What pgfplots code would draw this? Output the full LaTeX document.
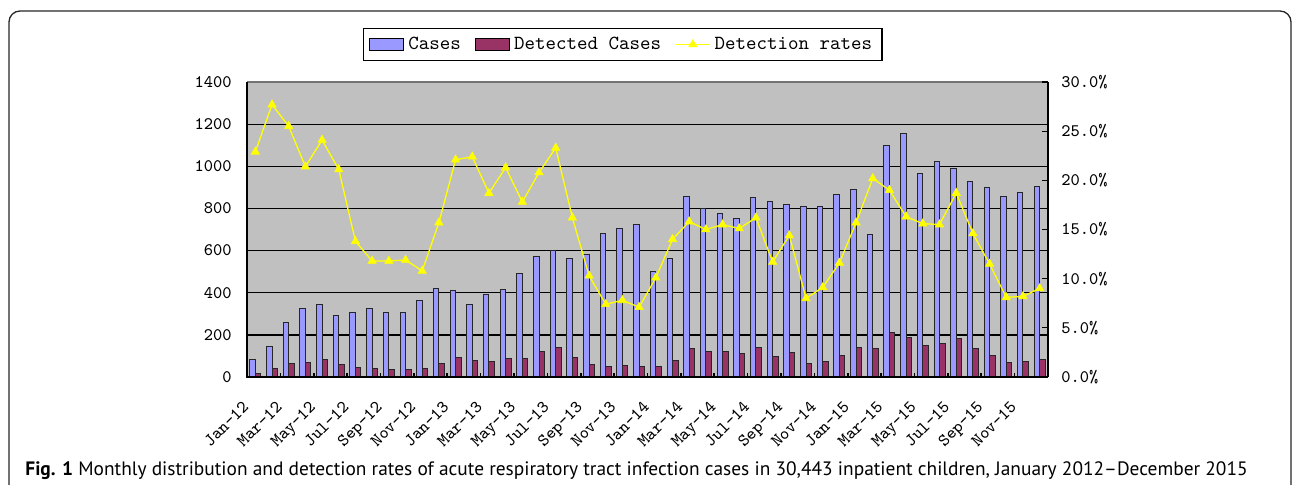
\documentclass[border=0pt]{standalone}
\usepackage{fontspec}
\usepackage{pgfplots}
\pgfplotsset{compat=1.18}
\newfontfamily\capfont[Ligatures=TeX]{PT Sans}
\definecolor{plotbg}{HTML}{C0C0C0}
\definecolor{casesblue}{HTML}{9999FF}
\definecolor{detred}{HTML}{993366}
\definecolor{rateyellow}{HTML}{FFFF00}
\newcommand{\tickfont}{\fontsize{8.8}{10}\selectfont\ttfamily}
\newcommand{\legfont}{\fontsize{10}{12}\selectfont\ttfamily}

\pgfplotstableread{
k cases detected
1 82 19
2 146 40
3 258 66
4 323 69
5 346 83
6 290 61
7 308 43
8 327 39
9 308 36
10 308 37
11 365 39
12 422 66
13 410 91
14 346 78
15 391 73
16 416 89
17 492 88
18 574 119
19 600 140
20 562 91
21 581 60
22 680 50
23 706 55
24 725 51
25 500 51
26 562 79
27 859 136
28 799 120
29 777 120
30 750 113
31 853 138
32 834 98
33 821 118
34 808 65
35 808 74
36 864 100
37 889 140
38 676 137
39 1098 209
40 1155 188
41 965 151
42 1022 158
43 990 185
44 927 135
45 897 103
46 857 69
47 876 72
48 902 81
}\monthly

\pgfplotstableread{
k rate
1 22.9
2 27.7
3 25.5
4 21.4
5 24.1
6 21.1
7 13.8
8 11.8
9 11.8
10 11.9
11 10.8
12 15.7
13 22.1
14 22.4
15 18.7
16 21.3
17 17.8
18 20.8
19 23.3
20 16.2
21 10.3
22 7.4
23 7.8
24 7.1
25 10.1
26 14.0
27 15.8
28 15.0
29 15.5
30 15.1
31 16.2
32 11.7
33 14.4
34 8.0
35 9.1
36 11.6
37 15.7
38 20.2
39 19.0
40 16.3
41 15.6
42 15.5
43 18.7
44 14.6
45 11.5
46 8.1
47 8.2
48 9.0
}\rates

\begin{document}
\begin{tikzpicture}
\path[use as bounding box] (0,0) rectangle (646pt,242pt);
\draw[line width=0.65pt, black!85, rounded corners=5.5pt]
  (4.5pt,-3pt) -- (4.5pt,236.5pt) -- (645.5pt,236.5pt) -- (645.5pt,-3pt);

\begin{axis}[
  at={(123.5pt,53.5pt)}, anchor=south west,
  scale only axis, width=400.5pt, height=147.5pt,
  xmin=0.5, xmax=48.5, ymin=0, ymax=1400,
  ybar=0pt, bar width=0.33,
  axis background/.style={fill=plotbg},
  axis line style={draw=none},
  ytick={0,200,...,1400},
  yticklabels={0,200,400,600,800,1000,1200,1400},
  xtick={1,3,...,47},
  xticklabels={Jan-12,Mar-12,May-12,Jul-12,Sep-12,Nov-12,
               Jan-13,Mar-13,May-13,Jul-13,Sep-13,Nov-13,
               Jan-14,Mar-14,May-14,Jul-14,Sep-14,Nov-14,
               Jan-15,Mar-15,May-15,Jul-15,Sep-15,Nov-15},
  minor xtick={2.5,4.5,...,46.5},
  xtick pos=bottom, ytick pos=left,
  tick align=inside,
  major tick length=0pt, minor tick length=2pt,
  minor tick style={black, line width=0.8pt},
  ymajorgrids, grid style={black, line width=0.65pt},
  yticklabel style={font=\tickfont, inner sep=0pt, anchor=east, xshift=-7.5pt},
  xticklabel style={font=\tickfont, inner sep=0pt, xshift=-6.8pt, yshift=-11.5pt, rotate=45, anchor=north east},
  after end axis/.code={
    \draw[gray!90!black, line width=0.65pt] (rel axis cs:0,1) -- (rel axis cs:1,1);
    \draw[black, line width=1pt] (rel axis cs:0,1) -- (rel axis cs:0,0) -- (rel axis cs:1,0);
  },
]
\addplot[draw=black!85, line width=0.5pt, fill=casesblue] table[x=k, y=cases] {\monthly};
\addplot[draw=black!85, line width=0.5pt, fill=detred] table[x=k, y=detected] {\monthly};
\end{axis}

\begin{axis}[
  at={(123.5pt,53.5pt)}, anchor=south west,
  scale only axis, width=400.5pt, height=147.5pt,
  xmin=0.5, xmax=48.5, ymin=0, ymax=30,
  axis x line=none, axis y line*=right,
  axis line style={black, line width=1pt},
  ytick={0,5,...,30},
  yticklabels={0.0\%,5.0\%,10.0\%,15.0\%,20.0\%,25.0\%,30.0\%},
  tick align=inside, major tick length=3.2pt,
  tick style={black, line width=0.65pt},
  yticklabel style={font=\tickfont, inner sep=0pt, anchor=west, xshift=6.5pt},
  legend style={at={(0.469,1.127)}, anchor=center, legend columns=-1,
    draw=black, line width=0.6pt, font=\legfont, inner xsep=3pt, inner ysep=2.2pt,
    /tikz/every even column/.append style={column sep=5pt}},
  legend cell align=left,
]
\addlegendimage{area legend, fill=casesblue, draw=black, line width=0.5pt}
\addlegendentry{Cases}
\addlegendimage{area legend, fill=detred, draw=black, line width=0.5pt}
\addlegendentry{Detected Cases}
\addplot[rateyellow, line width=0.65pt, mark=triangle*, mark size=2.4pt,
  mark options={fill=rateyellow, draw=rateyellow, line width=0.3pt}]
  table[x=k, y=rate] {\rates};
\addlegendentry{Detection rates}
\end{axis}

\node[anchor=base west, inner sep=0pt] at (12.5pt,4.5pt)
  {\capfont\fontsize{9.7}{11}\selectfont\textbf{Fig. 1} Monthly distribution and detection rates of acute respiratory tract infection cases in 30,443 inpatient children, January 2012–December 2015};
\end{tikzpicture}
\end{document}
